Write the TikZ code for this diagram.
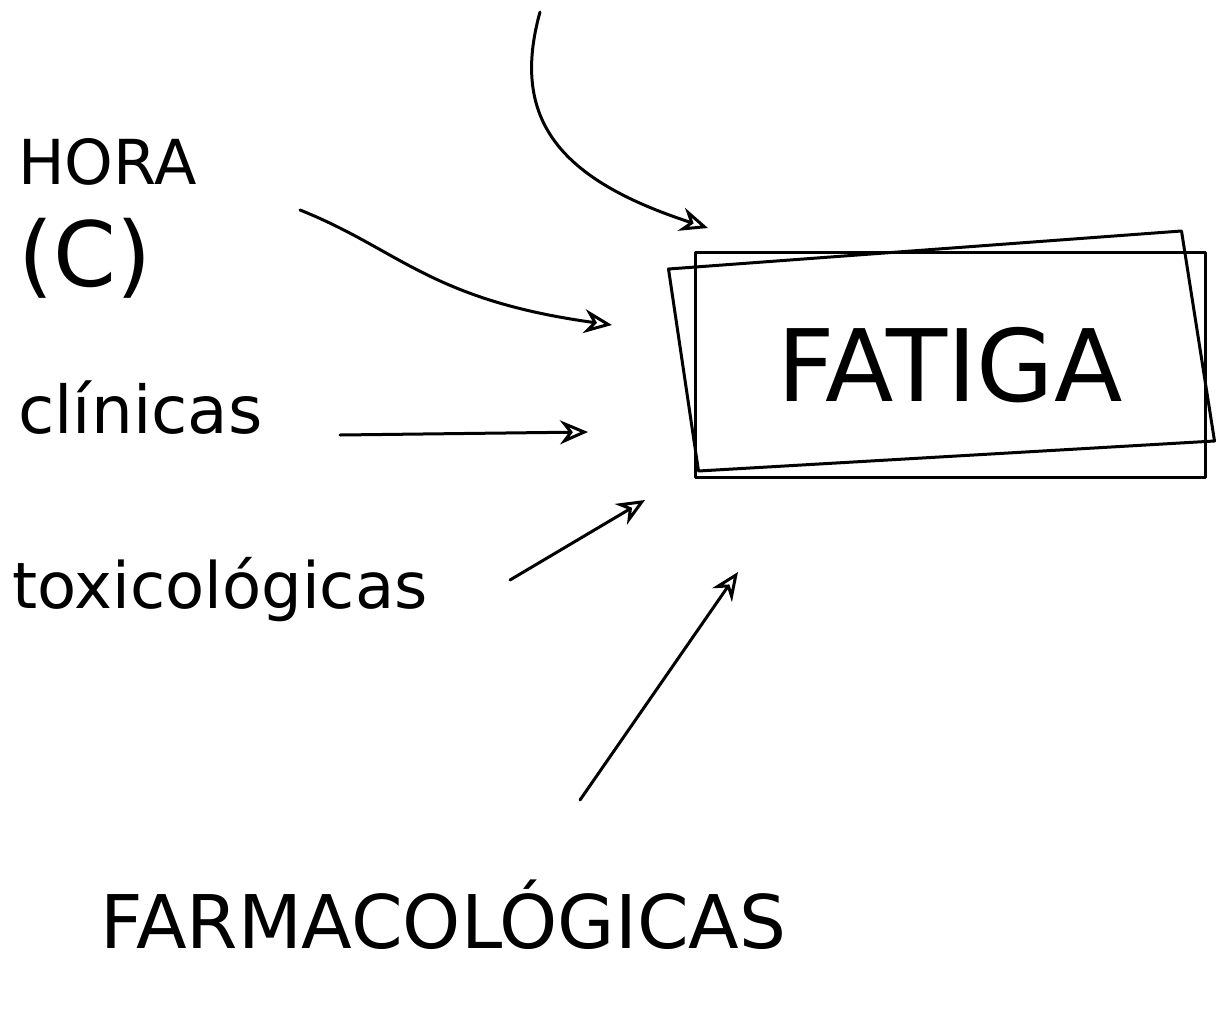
\documentclass[tikz,border=0pt]{standalone}
\usepackage{fontspec}
\setmainfont{DejaVu Sans}
\usetikzlibrary{arrows.meta}
\begin{document}
\begin{tikzpicture}[x=1pt,y=-1pt,
  ink/.style={line width=3pt,line cap=round,line join=round},
  lbl/.style={anchor=west,inner sep=0pt},
  arr/.style={ink,-{Stealth[length=28pt,width=24pt,open]}}]
\useasboundingbox[fill=white] (0,0) rectangle (1221,1012);
% labels
\node[lbl,font=\fontsize{62}{70}\selectfont] (hora) at (18,162) {HORA};
\node[lbl,font=\fontsize{90}{100}\selectfont] (c) at (18,258) {(C)};
\node[lbl,font=\fontsize{66}{72}\selectfont] (clin) at (18,408) {clínicas};
\node[lbl,font=\fontsize{64}{72}\selectfont] (tox) at (12,590) {toxicológicas};
\node[lbl,font=\fontsize{74}{80}\selectfont] (farm) at (100,915) {FARMACOLÓGICAS};
% target box
\node[ink,draw,minimum width=510pt,minimum height=225pt,inner sep=0pt,
      font=\fontsize{100}{110}\selectfont] (fat) at (950,365) {FATIGA};
\draw[ink] ([xshift=-25pt,yshift=-18pt]fat.north west) -- ([xshift=-25pt,yshift=20pt]fat.north east)
  -- ([xshift=8pt,yshift=38pt]fat.south east) -- ([xshift=5pt,yshift=8pt]fat.south west) -- cycle;
% connector end points
\coordinate (top) at (540,12);
\coordinate (tpA) at (708,228);
\coordinate (hS) at (300,210);
\coordinate (hA) at (612,325);
\coordinate (cS) at (340,435);
\coordinate (cA) at (588,432);
\coordinate (tS) at (510,580);
\coordinate (tA) at (645,500);
\coordinate (fS) at (580,800);
\coordinate (fA) at (738,572);
\draw[arr] (top) .. controls (510,120) and (560,180) .. (tpA);
\draw[arr] (hS) .. controls (400,250) and (430,300) .. (hA);
\draw[arr] (cS) -- (cA);
\draw[arr] (tS) -- (tA);
\draw[arr] (fS) -- (fA);
\end{tikzpicture}
\end{document}
